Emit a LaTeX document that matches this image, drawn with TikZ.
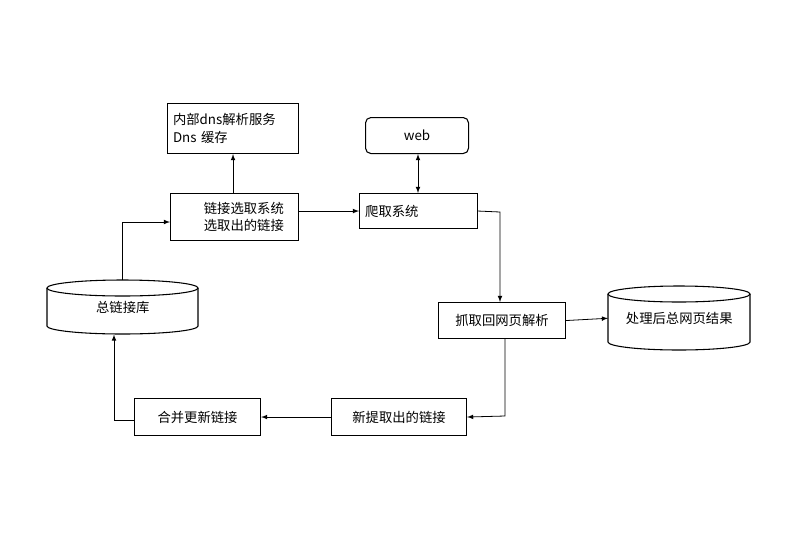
\documentclass[tikz,border=0pt]{standalone}
\usepackage{fontspec}
\newfontfamily\cjk{Noto Sans CJK SC}
\usetikzlibrary{positioning}
\begin{document}
\begin{tikzpicture}[x=0.75pt, y=-0.75pt, >=latex,
  box/.style={draw, thick, minimum height=#1*0.75pt, inner sep=2pt},
  box/.default=35,
  lbl/.style={font=\cjk\fontsize{10pt}{13pt}\selectfont},
  conn/.style={->, semithick}]

\useasboundingbox (0,0) rectangle (800,540);

% rectangles
\node[box, lbl, minimum width=131*0.75pt, minimum height=50*0.75pt, align=left, anchor=north west, text width=120*0.75pt] (dns) at (167,103) {内部dns解析服务\\Dns 缓存};
\node[box, lbl, minimum width=128*0.75pt, minimum height=47*0.75pt, align=left, anchor=north west] (sel) at (170,193) {\hspace{14pt}链接选取系统\\\hspace{14pt}选取出的链接\hspace{6pt}};
\node[box, lbl, minimum width=118*0.75pt, anchor=north west] (crawl) at (359,193) {\hspace{-40pt}爬取系统};
\node[draw, thick, rounded corners=4pt, lbl, minimum width=103*0.75pt, minimum height=36*0.75pt, anchor=north west] (web) at (365,117) {web};
\node[box, lbl, minimum width=127*0.75pt, minimum height=36*0.75pt, anchor=north west] (parse) at (438,302) {抓取回网页解析};
\node[box, lbl, minimum width=135*0.75pt, minimum height=37*0.75pt, anchor=north west] (new) at (331,398) {新提取出的链接};
\node[box, lbl, minimum width=126*0.75pt, minimum height=37*0.75pt, anchor=north west] (merge) at (134,398) {合并更新链接};

% cylinders
\node[lbl, minimum width=151*0.75pt, minimum height=54*0.75pt, anchor=north west] (db) at (47,280) {\raisebox{-6pt}{总链接库}};
\draw[thick] (47,288) ellipse (0 and 0);
\draw[thick] (122.5,288) ellipse (75.5 and 8);
\draw[thick] (47,288) -- (47,326) arc[start angle=180, end angle=360, x radius=75.5, y radius=-8] -- (198,288);
\node[lbl, minimum width=142*0.75pt, minimum height=64*0.75pt, anchor=north west] (res) at (608,286) {\raisebox{-4pt}{处理后总网页结果}};
\draw[thick] (679,294) ellipse (71 and 8);
\draw[thick] (608,294) -- (608,342) arc[start angle=180, end angle=360, x radius=71, y radius=-8] -- (750,294);

% connectors
\draw[conn] (sel.north -| dns.south) -- (dns.south);
\draw[conn] (sel.east |- crawl.west) -- (crawl.west);
\draw[<->, semithick] (web.south -| 418,0) -- (crawl.north -| 418,0);
\draw[conn] (crawl.east) -- (500,212) -- (parse.north -| 500,0);
\draw[conn] (parse.east) -- (res.west);
\draw[conn] (parse.south -| 505,0) -- (505,416) -- (new.east);
\draw[conn] (new.west) -- (merge.east);
\draw[conn] (merge.west |- 0,420) -- (114,420) -- (db.south -| 114,0);
\draw[conn] (db.north -| 122,0) -- (122,222) -- (sel.west |- 0,222);

\end{tikzpicture}
\end{document}
